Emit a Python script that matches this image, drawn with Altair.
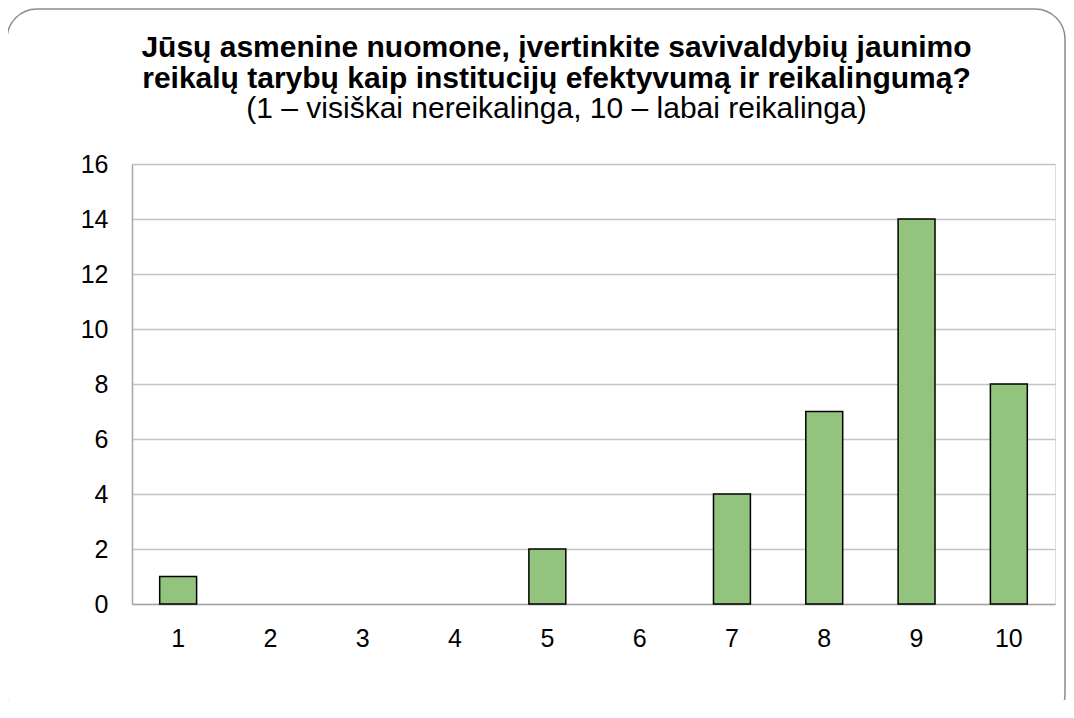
import altair as alt
import pandas as pd

categories = ["1", "2", "3", "4", "5", "6", "7", "8", "9", "10"]
counts = [1, 0, 0, 0, 2, 0, 4, 7, 14, 8]
y_ticks = [0, 2, 4, 6, 8, 10, 12, 14, 16]
title_lines = [
    "Jūsų asmenine nuomone, įvertinkite savivaldybių jaunimo",
    "reikalų tarybų kaip institucijų efektyvumą ir reikalingumą?",
]
subtitle_text = "(1 – visiškai nereikalinga, 10 – labai reikalinga)"

df = pd.DataFrame({"cat": categories, "value": counts})

FONT = "Liberation Sans"

bars = (
    alt.Chart(df)
    .transform_filter("datum.value > 0")
    .mark_bar(fill="#93C47D", stroke="#000000", strokeWidth=1.5)
    .encode(
        x=alt.X(
            "cat:N",
            sort=categories,
            scale=alt.Scale(domain=categories, paddingInner=0.6, paddingOuter=0.3),
            axis=alt.Axis(
                title=None,
                labelAngle=0,
                ticks=False,
                domain=True,
                domainColor="#a6a6a6",
                domainWidth=1.5,
                labelFontSize=25,
                labelFont=FONT,
                labelColor="#000000",
                labelPadding=22,
                grid=False,
            ),
        ),
        y=alt.Y(
            "value:Q",
            scale=alt.Scale(domain=[0, 16], nice=False),
            axis=alt.Axis(
                title=None,
                values=y_ticks,
                ticks=False,
                domain=True,
                domainColor="#a6a6a6",
                domainWidth=1.5,
                grid=True,
                gridColor="#c4c4c4",
                gridWidth=1.5,
                labelFontSize=25,
                labelFont=FONT,
                labelColor="#000000",
                labelPadding=24,
            ),
        ),
    )
)

frame = (
    alt.Chart(alt.Data(values=[{"k": 1}]))
    .mark_rect(
        fill="transparent",
        stroke="#8c8c8c",
        strokeWidth=1.5,
        cornerRadius=30,
    )
    .encode(
        x=alt.value(-125),
        x2=alt.value(933),
        y=alt.value(-155),
        y2=alt.value(560),
    )
)

chart = (
    alt.layer(frame, bars)
    .properties(
        width=923,
        height=440,
        padding={"left": 124, "top": 156, "right": 11, "bottom": 96},
        autosize=alt.AutoSizeParams(type="none"),
        title=alt.TitleParams(
            text=title_lines,
            subtitle=subtitle_text,
            anchor="middle",
            dx=-37,
            offset=-116,
            font=FONT,
            fontSize=30,
            fontWeight="bold",
            color="#000000",
            lineHeight=31,
            subtitleFont=FONT,
            subtitleFontSize=30,
            subtitleColor="#000000",
            subtitlePadding=0,
            subtitleLineHeight=30,
        ),
    )
    .configure_view(strokeWidth=0)
    .configure(background="#ffffff")
)

chart.save("out.html", embed_options={"renderer": "svg", "actions": False})
